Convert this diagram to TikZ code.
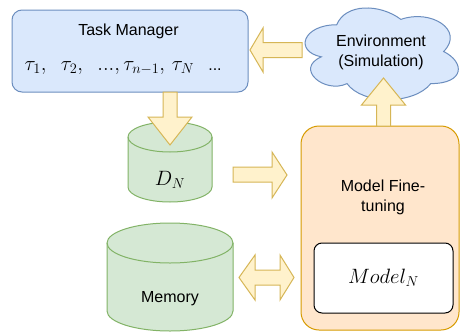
\documentclass[tikz,border=0pt]{standalone}
\usepackage[no-math]{fontspec}
\setmainfont{Liberation Sans}
\definecolor{bfill}{HTML}{DAE8FC}
\definecolor{bstroke}{HTML}{6C8EBF}
\definecolor{gfill}{HTML}{D5E8D4}
\definecolor{gstroke}{HTML}{82B366}
\definecolor{ofill}{HTML}{FFE6CC}
\definecolor{ostroke}{HTML}{D79B00}
\definecolor{yfill}{HTML}{FFF2CC}
\definecolor{ystroke}{HTML}{D6B656}
\begin{document}
\begin{tikzpicture}[x=1pt,y=-1pt,line width=1pt,
  txt/.style={inner sep=0pt,font=\fontsize{16}{20}\selectfont,align=center},
  mth/.style={inner sep=0pt,font=\fontsize{20}{24}\selectfont},
  blockarrow/.style={fill=yfill,draw=ystroke,line join=miter},
  cyl/.style={fill=gfill,draw=gstroke},
  boxshape/.style={inner sep=0pt}]
\useasboundingbox (0,0) rectangle (460,332);
\fill[white] (0,0) rectangle (460,332);

% Task manager
\node[boxshape,draw=bstroke,fill=bfill,rounded corners=10pt,minimum width=236pt,minimum height=82pt] (tm) at (130,51) {};
\node[txt,anchor=base] (tmlabel) at (128.5,35) {Task Manager};
\node[mth,anchor=base west] (tasks) at (24,70) {$\tau_1,\hspace{11pt}\tau_2,\hspace{11pt}...,\tau_{n-1},\,\tau_N$};
\node[txt,anchor=base] (tmdots) at (215,70) {...};

% Environment cloud
\path[fill=bfill,draw=bstroke]
  (336.75,24.75)
  .. controls (302.55,24.75) and (294,51.5) .. (321.36,56.85)
  .. controls (294,68.62) and (324.78,94.3) .. (347.01,83.6)
  .. controls (362.4,105) and (413.7,105) .. (430.8,83.6)
  .. controls (465,83.6) and (465,62.2) .. (443.625,51.5)
  .. controls (465,30.1) and (430.8,8.7) .. (400.875,19.4)
  .. controls (379.5,3.35) and (345.3,3.35) .. (336.75,24.75) -- cycle;
\node[txt] (env) at (381,52) {Environment\\(Simulation)};

% D_N cylinder
\path[cyl] (128,137) -- (128,187) arc[start angle=180,end angle=360,x radius=42pt,y radius=15pt]
  -- (212,137) arc[start angle=0,end angle=180,x radius=42pt,y radius=15pt] -- cycle;
\draw[gstroke] (128,137) arc[start angle=180,end angle=360,x radius=42pt,y radius=15pt];
\node[mth,anchor=base] (dn) at (170,185) {$D_N$};

% Memory cylinder
\path[cyl] (107,243) -- (107,311) arc[start angle=180,end angle=360,x radius=63pt,y radius=20pt]
  -- (233,243) arc[start angle=0,end angle=180,x radius=63pt,y radius=20pt] -- cycle;
\draw[gstroke] (107,243) arc[start angle=180,end angle=360,x radius=63pt,y radius=20pt];
\node[txt,anchor=base] (mem) at (170,302) {Memory};

% Model fine-tuning
\node[boxshape,draw=ostroke,fill=ofill,rounded corners=18pt,minimum width=158pt,minimum height=204pt] (mft) at (380,228) {};
\node[txt] (mftlabel) at (383,197) {Model Fine-\\tuning};
\node[boxshape,draw=black,fill=white,rounded corners=8pt,minimum width=139pt,minimum height=70pt] (mn) at (383.5,278) {};
\node[mth,anchor=base] (mnlabel) at (383.5,283) {$Model_N$};

% block arrows
\path[blockarrow] (302,42.5) -- (263,42.5) -- (263,28) -- (250,50) -- (263,72) -- (263,57.5) -- (302,57.5) -- cycle;
\path[blockarrow] (163,92) -- (163,117) -- (148,117) -- (170,145) -- (192,117) -- (177,117) -- (177,92) -- cycle;
\path[blockarrow] (233,167) -- (272,167) -- (272,152) -- (287,175) -- (272,198) -- (272,182) -- (233,182) -- cycle;
\path[blockarrow] (376.5,126) -- (376.5,105) -- (361.5,105) -- (383.5,78) -- (405.5,105) -- (390.5,105) -- (390.5,126) -- cycle;
\path[blockarrow] (239,277.5) -- (255,255) -- (255,270) -- (280,270) -- (280,255) -- (294,277.5) -- (280,300) -- (280,285) -- (255,285) -- (255,300) -- cycle;
\end{tikzpicture}
\end{document}
